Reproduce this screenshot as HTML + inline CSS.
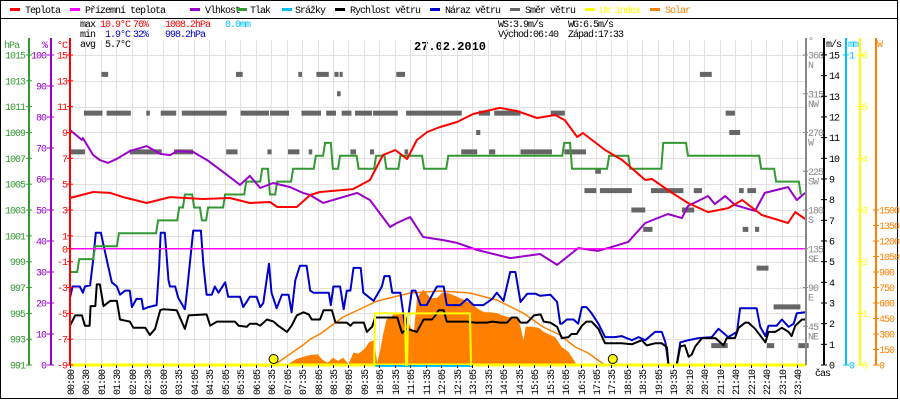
<!DOCTYPE html>
<html><head><meta charset="utf-8"><style>
html,body{margin:0;padding:0;background:#fff}
svg{display:block}
text{font-family:"Liberation Mono",monospace;font-size:10px;letter-spacing:-1px}
</style></head><body>
<svg id="c" width="900" height="400" xmlns="http://www.w3.org/2000/svg">
<rect x="0.5" y="0.5" width="897" height="398" fill="#fff" stroke="#000"/>
<line x1="0" y1="18.5" x2="898" y2="18.5" stroke="#000"/>
<g id="legend"></g>
<g>
<text x="80" y="27" fill="#000">max</text>
<text x="100" y="27" fill="#f00">10.9°C</text>
<text x="133" y="27" fill="#f00">76%</text>
<text x="165" y="27" fill="#f00">1008.2hPa</text>
<text x="225" y="27" fill="#00bfff">0.0mm</text>
<text x="80" y="37" fill="#000">min</text>
<text x="105" y="37" fill="#00c">1.9°C</text>
<text x="133" y="37" fill="#00c">32%</text>
<text x="165" y="37" fill="#00c">998.2hPa</text>
<text x="80" y="47" fill="#000">avg</text>
<text x="105" y="47" fill="#000">5.7°C</text>
<text x="498" y="27" fill="#000">WS:3.9m/s</text>
<text x="568" y="27" fill="#000">WG:6.5m/s</text>
<text x="498" y="37" fill="#000">Východ:06:40</text>
<text x="568" y="37" fill="#000">Západ:17:33</text>
<text x="414" y="50" fill="#000" style="font-size:12px;font-weight:bold;letter-spacing:0">27.02.2010</text>
</g>
<g id="grid"></g>
<g id="series"></g>
<g id="axes"></g>
</svg>
<script>
// ---- data ----
const timeLabels=["00:00","00:30","01:00","01:30","02:00","02:30","03:00","03:35","04:05","04:35","05:05","05:35","06:05","06:35","07:05","07:35","08:05","08:35","09:05","09:35","10:05","10:35","11:05","11:35","12:05","12:35","13:05","13:35","14:05","14:35","15:05","15:35","16:05","16:35","17:05","17:35","18:05","18:35","19:05","19:35","20:10","20:40","21:10","21:40","22:10","22:40","23:10","23:40"];
const tempT=[0,45,78,103,149,194,258,310,349,388,402,440,466,485,549,582,607,631,654,673,693,718,751,782,834,867,906,941,960,984,995,1038,1071,1116,1129,1168,1199,1238,1277,1304,1342,1393,1407,1426];
const tempV=[3.93,4.39,4.32,4.0,3.54,4.0,3.85,3.93,3.54,3.62,3.23,3.23,4.16,4.39,4.62,5.32,7.25,7.64,6.95,8.42,9.04,9.42,9.81,10.43,10.9,10.66,10.12,10.35,9.96,8.65,8.96,7.64,6.87,5.32,5.4,4.32,3.54,2.84,3.15,3.77,2.61,1.99,2.84,2.3];
const humT=[0,23,25,45,58,74,91,116,149,175,194,208,239,266,297,330,349,369,394,427,452,466,491,530,557,582,621,634,660,685,724,751,790,854,912,945,986,1024,1051,1083,1116,1160,1187,1199,1238,1251,1271,1290,1329,1348,1393,1410,1426];
const humV=[75.8,72.6,73.2,67.7,66.1,65.2,66.5,69.0,70.6,68.1,67.7,69.0,68.7,66.1,62.3,58.1,61.0,57.1,58.7,57.4,55.5,54.8,52.3,54.2,55.5,53.2,44.5,45.8,47.7,41.3,40.3,39.4,37.1,34.5,35.8,32.3,37.7,36.8,38.1,39.7,45.8,48.7,47.4,51.3,54.5,51.9,54.5,51.6,49.7,55.5,57.4,53.2,55.5];
const pressT=[0,14,45,91,167,208,219,237,252,264,297,338,369,384,398,429,473,491,506,520,556,590,610,637,683,730,955,970,1042,1083,1147,1195,1337,1366,1414];
const pressV=[998.2,999.2,1000.2,1001.2,1002.2,1003.2,1004.2,1003.2,1002.2,1003.2,1004.2,1005.2,1006.2,1004.2,1005.2,1006.2,1007.2,1008.2,1006.2,1007.2,1006.2,1007.2,1006.2,1007.2,1006.2,1007.2,1008.2,1006.2,1007.2,1006.2,1008.2,1007.2,1006.2,1005.2,1004.2];
const gustT=[0,5,19,25,29,39,45,50,60,65,74,81,91,97,107,116,120,129,139,142,152,168,173,176,184,191,194,204,210,223,228,239,254,259,265,275,281,288,301,307,330,336,349,362,369,375,386,391,401,411,424,430,437,446,459,466,472,502,506,511,524,531,537,544,550,564,569,589,605,610,620,625,641,650,657,663,670,680,692,705,712,725,731,757,770,783,802,819,828,841,854,864,874,887,903,912,932,945,951,954,964,977,986,993,1002,1012,1025,1038,1057,1070,1090,1103,1116,1135,1148,1155,1161,1177,1184,1200,1219,1245,1258,1277,1294,1300,1310,1332,1339,1349,1355,1371,1381,1394,1404,1410,1426];
const gustV=[3.25,3.8,3.8,3.5,3.8,3.85,5.1,6.4,6.4,5.8,4.8,4.0,3.8,3.4,3.6,3.6,2.8,3.2,3.2,2.7,2.8,2.9,4.8,6.4,6.4,4.1,3.8,3.8,3.25,2.7,3.8,6.5,6.5,4.8,3.4,3.4,3.8,3.5,4.0,3.3,3.3,2.8,3.3,3.3,2.8,3.0,4.9,3.5,2.75,3.4,3.4,2.55,4.1,4.8,4.8,3.6,3.5,3.5,2.9,3.8,3.8,2.7,3.6,3.6,4.7,4.7,3.5,3.1,3.8,4.3,4.3,3.5,3.5,1.85,2.5,3.6,3.6,2.9,2.9,3.5,3.8,3.8,2.9,2.9,3.2,2.9,2.9,3.2,3.5,3.1,4.5,4.5,3.05,3.45,3.45,3.35,3.4,3.05,2.0,2.0,2.2,2.2,2.0,2.8,2.8,2.5,2.0,1.35,1.35,1.4,1.2,1.35,1.2,1.6,1.6,1.1,0,0,1.1,1.2,1.3,1.35,1.75,1.35,1.6,2.75,2.75,2.75,1.85,1.4,1.9,1.9,2.2,1.85,2.0,2.5,2.55];
const windT=[0,10,23,29,38,40,49,52,58,65,78,91,97,116,123,146,155,165,175,181,207,223,230,265,272,285,320,327,343,349,362,369,382,395,404,421,430,440,453,463,469,485,492,508,515,537,544,550,570,576,586,592,635,644,654,673,686,702,709,715,725,731,770,786,809,819,835,848,857,867,874,887,900,913,919,932,945,954,967,973,983,993,1002,1012,1025,1038,1070,1090,1109,1119,1135,1148,1158,1161,1177,1184,1193,1200,1206,1213,1226,1252,1268,1274,1290,1297,1310,1316,1329,1349,1355,1368,1381,1394,1400,1407,1420,1426];
const windV=[1.9,2.4,2.4,1.9,1.9,2.85,2.85,3.9,3.9,2.85,3.1,3.1,2.2,2.1,1.8,1.8,1.45,1.75,2.65,2.7,2.65,1.75,2.4,2.45,1.9,2.1,2.1,1.9,1.85,2.0,2.0,1.9,2.2,2.1,1.9,1.6,1.9,2.4,2.55,2.45,2.2,2.2,2.65,2.65,2.05,2.05,1.9,2.05,2.05,1.6,1.85,2.3,2.3,1.55,1.75,1.6,2.2,2.2,2.4,2.65,2.65,2.1,2.1,2.05,2.05,2.1,2.05,2.05,2.3,2.3,2.05,2.05,2.4,2.45,2.1,2.05,1.85,1.3,1.35,1.5,1.5,1.9,2.1,2.1,1.75,1.05,1.05,1.0,1.2,0.95,1.05,1.05,0.85,0,0,0.9,0.95,0.4,0.5,0.9,1.3,1.3,0.95,1.3,1.3,1.8,2.05,2.05,1.75,1.1,1.6,1.6,1.8,1.6,1.4,1.9,2.2,2.2];
const dirStart=[61,322,443,478,513,523,633,1222,518,27,71,148,176,217,331,388,449,497,527,553,588,652,793,823,933,1272,788,1279,0,116,202,303,383,423,463,544,582,649,759,813,874,959,1019,998,1028,1127,1210,1298,1314,1089,1187,1112,1305,1329,1332,1365,1244,1352,1413];
const dirEnd=[74,335,450,502,521,529,650,1245,525,63,118,155,206,304,386,425,487,516,546,586,636,760,815,874,960,1290,796,1300,29,178,239,325,391,445,470,555,590,656,790,825,935,1001,1030,1021,1090,1190,1226,1307,1331,1116,1211,1130,1316,1337,1355,1417,1276,1366,1433];
const dirDeg=[337.5,337.5,337.5,337.5,337.5,337.5,337.5,337.5,315,292.5,292.5,292.5,292.5,292.5,292.5,292.5,292.5,292.5,292.5,292.5,292.5,292.5,292.5,292.5,292.5,292.5,270,270,247.5,247.5,247.5,247.5,247.5,247.5,247.5,247.5,247.5,247.5,247.5,247.5,247.5,247.5,225,202.5,202.5,202.5,202.5,202.5,202.5,180,180,157.5,157.5,157.5,112.5,67.5,22.5,22.5,22.5];
const solarT=[420,440,460,470,480,490,500,510,520,530,540,550,560,572,580,590,596,602,608,614,623,632,645,655,660,667,673,680,686,699,712,722,732,751,764,777,790,803,816,829,848,867,874,880,884,896,909,919,932,941,954,967,977,983];
const solarV=[0,60,90,100,105,50,20,70,40,70,10,120,110,160,220,240,20,150,310,440,465,510,500,440,370,310,640,700,730,650,650,700,700,660,630,600,550,510,510,500,465,465,370,240,370,370,360,320,290,270,174,126,50,0];
const sunCurveT=[400,402,452,466,485,530,596,660,718,776,828,879,918,951,980,1005,1032,1040];
const sunCurveW=[0,19,194,250,300,465,620,697,716,697,629,503,368,290,174,116,19,0];
const uvT=[0,590,650,654,776,1426];
const uvV=[0,1,0,1,0,0];
const rainT=[592,780];
const rainV=[0,0];
const appT=[0,1426];
const appV=[0,0];
const sunEvents=[395,1053];

// ---- scales ----
const X0=70,X1=806,YB=365;
const xMin=m=>X0+m/1.94;
const xIdx=i=>X0+i*15.47;
const yT=t=>248.75-t*12.92;
const yP=p=>55+(1015-p)*12.92;
const yH=h=>365-h*3.1;
const yV=v=>365-v*20.67;
const yD=d=>365-d*0.8611;
const yW=w=>365-w*0.1033;
const yU=u=>365-u*51.67;
const NS="http://www.w3.org/2000/svg";
function mk(tag,attrs,parent){const e=document.createElementNS(NS,tag);for(const k in attrs)e.setAttribute(k,attrs[k]);parent.appendChild(e);return e;}
const grid=document.getElementById('grid'),ser=document.getElementById('series'),axes=document.getElementById('axes'),leg=document.getElementById('legend');

// legend
const legItems=[["Teplota","#f00",10,25],["Přízemní teplota","#f0f",70,85],["Vlhkost","#90c",190,205],["Tlak","#393",237,250],["Srážky","#00bfff",282,295],["Rychlost větru","#000",335,350],["Náraz větru","#00c",430,445],["Směr větru","#666",510,525],["UV index","#ff0",585,600],["Solar","#ff8000",650,665]];
legItems.forEach(it=>{
  const s=mk('rect',{x:it[2],y:8,width:10,height:3,fill:it[1]},leg);
  
  
  const t=mk('text',{x:it[3],y:13,fill:it[0]==="UV index"||it[0]==="Solar"?it[1]:"#000"},leg);t.textContent=it[0];
  
  
});

// grid
for(let i=0;i<timeLabels.length;i++){
  const x=Math.round(xIdx(i))+0.5;
  const l=mk('line',{x1:x,y1:40,x2:x,y2:YB,stroke:"#e4e0e0"},grid);
  
  
  const tk=mk('line',{x1:x,y1:YB,x2:x,y2:YB+3,stroke:"#000"},axes);
  
  
  const t=mk('text',{x:0,y:0,fill:"#000",transform:`translate(${x+3.5},395) rotate(-90)`},axes);t.textContent=timeLabels[i];
  
  
}
for(let t=15;t>=-9;t-=2){
  const y=Math.round(yT(t))+0.5;
  const l=mk('line',{x1:X0,y1:y,x2:X1,y2:y,stroke:"#e4e0e0"},grid);
  
  
}

function poly(T,V,fx,fy,color,w,name){
  const pts=T.map((t,i)=>fx(t).toFixed(1)+","+fy(V[i]).toFixed(1)).join(" ");
  const p=mk('polyline',{points:pts,fill:"none",stroke:color,"stroke-width":w,"stroke-linejoin":"round"},ser);
  
  
  return p;
}
function step(T,V,fx,fy,color,w,name,slope){
  let pts=[];
  for(let i=0;i<T.length;i++){
    if(i>0)pts.push(fx(T[i])+","+fy(V[i-1]));
    pts.push((fx(T[i])+(i>0?slope:0))+","+fy(V[i]));
  }
  const p=mk('polyline',{points:pts.join(" "),fill:"none",stroke:color,"stroke-width":w},ser);
  
  
}

// solar fill
{
  let pts=solarT.map((t,i)=>xMin(t).toFixed(1)+","+yW(solarV[i]).toFixed(1));
  pts.push(xMin(solarT[solarT.length-1])+","+YB);pts.unshift(xMin(solarT[0])+","+YB);
  const p=mk('polygon',{points:pts.join(" "),fill:"#ff8000"},ser);
  
  
}
poly(sunCurveT,sunCurveW,xMin,yW,"#ff8000",1.5,"solar-theoretical-curve");
// direction dashes
for(let i=0;i<dirDeg.length;i++){
  const r=mk('rect',{x:xMin(dirStart[i]),y:yD(dirDeg[i])-2.5,width:Math.max(3,xMin(dirEnd[i])-xMin(dirStart[i])),height:5,fill:"#666"},ser);
  
  
}
poly(gustT,gustV,xMin,yV,"#00c",2,"wind-gust-line");
poly(windT,windV,xMin,yV,"#000",2,"wind-speed-line");
step(pressT,pressV,xMin,yP,"#393",2,"pressure-line",2);
poly(humT,humV,xMin,yH,"#90c",2,"humidity-line");
poly(appT,appV,xMin,yT,"#f0f",1.5,"apparent-temperature-line");
poly(tempT,tempV,xMin,yT,"#f00",2,"temperature-line");
{const l=mk('line',{x1:X0,y1:YB,x2:X1,y2:YB,stroke:"#ff0","stroke-width":3},ser);

}
poly(rainT,rainV,xMin,v=>YB+1,"#00bfff",2,"rain-line");
step(uvT,uvV,xMin,yU,"#ff0",2,"uv-index-line",1);
sunEvents.forEach((m,i)=>{
  const c=mk('circle',{cx:xMin(m),cy:359,r:4.5,fill:"#ff0",stroke:"#000","stroke-width":1},ser);
  
  
});

// axes
function vline(x,color,name,y1){const l=mk('line',{x1:x,y1:y1||38,x2:x,y2:YB,stroke:color,"stroke-width":2},axes);}
function lab(x,y,txt,color,anchor,name){const t=mk('text',{x:x,y:y,fill:color,"text-anchor":anchor},axes);t.textContent=txt;}
function tick(x1,x2,y,color){const l=mk('line',{x1:x1,y1:y,x2:x2,y2:y,stroke:color},axes);}
vline(29,"#393","pressure-axis");vline(51,"#90c","humidity-axis");vline(70,"#f00","temperature-axis");
lab(4,48,"hPa","#393","start","pressure-axis-title");lab(42,48,"%","#90c","start","humidity-axis-title");lab(57,48,"°C","#f00","start","temperature-axis-title");
for(let p=1015;p>=991;p-=2){const y=yP(p);tick(26,32,y,"#393");lab(25,y+3.5,String(p),"#393","end","pressure-tick-label");}
for(let h=100;h>=0;h-=10){const y=yH(h);tick(47,54,y,"#90c");lab(46,y+3.5,String(h),"#90c","end","humidity-tick-label");}
for(let t=15;t>=-9;t-=2){const y=yT(t);tick(67,73,y,"#f00");lab(67,y+3.5,String(t),"#f00","end","temperature-tick-label");}
tick(67,73,yT(0),"#f00");lab(67,yT(0)+3.5,"0","#f00","end","temperature-tick-label");
vline(806,"#888","direction-axis",38);vline(824,"#000","wind-axis");vline(846,"#00bfff","rain-axis");vline(860,"#ff0","uv-axis");vline(876,"#ff8000","solar-axis");
lab(808,44,"°","#888","start","direction-axis-title");lab(826,47,"m/s","#000","start","wind-axis-title");lab(848,47,"mm","#00bfff","start","rain-axis-title");lab(877,47,"W","#ff8000","start","solar-axis-title");
const compass=["NE","E","SE","S","SW","W","NW","N"];
for(let i=1;i<=8;i++){const y=yD(i*45);tick(803,808,y,"#888");lab(808,y+3.5,String(i*45),"#888","start","direction-tick-label");lab(808,y+13,compass[i-1],"#888","start","direction-compass-label");}
for(let v=0;v<=15;v++){const y=yV(v);tick(821,827,y,"#000");lab(829,y+3.5,String(v),"#000","start","wind-tick-label");}
tick(843,849,55,"#00bfff");lab(849,58.5,"1","#00bfff","start","rain-tick-label");tick(843,849,YB,"#00bfff");lab(849,YB+3.5,"0","#00bfff","start","rain-tick-label");
for(let u=0;u<=6;u++){const y=yU(u);tick(857,863,y,"#ff0");lab(862,y+3.5,String(u),"#ff0","start","uv-tick-label");}
for(let w=0;w<=1500;w+=150){const y=yW(w);tick(873,879,y,"#ff8000");lab(879,y+3.5,String(w),"#ff8000","start","solar-tick-label");}
lab(815,376,"čas","#000","start","x-axis-title");
</script>
</body></html>
